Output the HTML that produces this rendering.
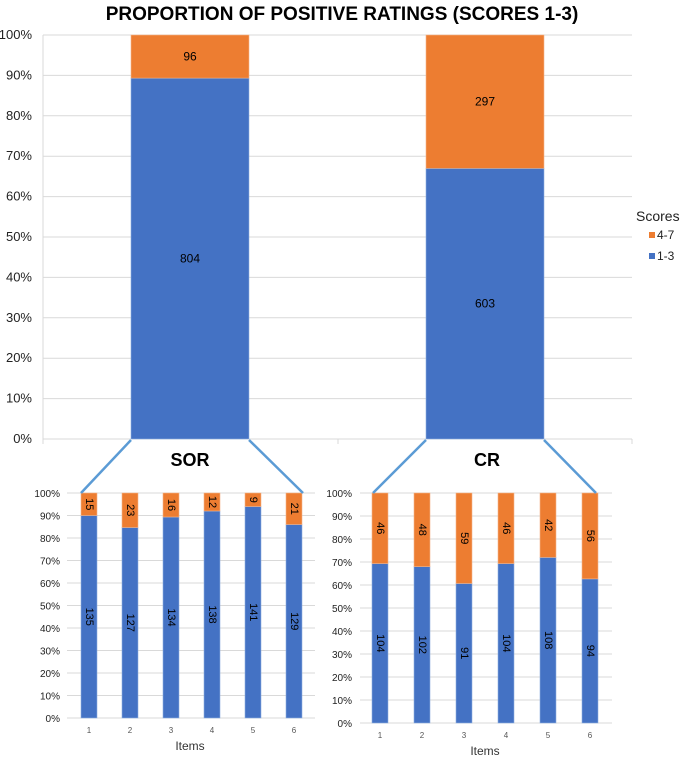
<!DOCTYPE html>
<html><head><meta charset="utf-8"><style>
body{margin:0;background:#fff;font-family:"Liberation Sans",Arial,sans-serif}
svg text{font-family:"Liberation Sans",Arial,sans-serif}
</style></head><body>
<svg id="c" width="685" height="756" viewBox="0 0 685 756" xmlns="http://www.w3.org/2000/svg"></svg>
<script>
const topCats=['SOR','CR'];
const topLow=[804,603];
const topHigh=[96,297];
const sorLow=[135,127,134,138,141,129];
const sorHigh=[15,23,16,12,9,21];
const crLow=[104,102,91,104,108,94];
const crHigh=[46,48,59,46,42,56];
const items=['1','2','3','4','5','6'];
const ticks=['0%','10%','20%','30%','40%','50%','60%','70%','80%','90%','100%'];
const BLUE='#4472C4',ORANGE='#ED7D31',GRID='#d9d9d9';
const svg=document.getElementById('c');
function el(t,a,txt){const e=document.createElementNS('http://www.w3.org/2000/svg',t);for(const k in a)e.setAttribute(k,a[k]);if(txt!==undefined)e.textContent=txt;svg.appendChild(e);return e;}
function panel(cfg){
  const y=v=>cfg.y0-(cfg.y0-cfg.y1)*v;
  ticks.forEach((t,i)=>{
    const g=el('line',{x1:cfg.gx0,x2:cfg.gx1,y1:y(i/10),y2:y(i/10),stroke:GRID,'stroke-width':1});
    
    
    const l=el('text',{x:cfg.lx,y:y(i/10)+4,'text-anchor':'end','font-size':cfg.tfs,fill:'#222'},t);
    
    
  });
  cfg.cats.forEach((c,i)=>{
    const cx=cfg.cx(i),tot=cfg.low[i]+cfg.high[i],p=cfg.low[i]/tot;
    const b=el('rect',{x:cx-cfg.bw/2,y:y(p),width:cfg.bw,height:y(0)-y(p),fill:BLUE,stroke:'#8fb0e0','stroke-width':0.6});
    
    
    const o=el('rect',{x:cx-cfg.bw/2,y:y(1),width:cfg.bw,height:y(p)-y(1),fill:ORANGE,stroke:'#f3b58a','stroke-width':0.6});
    
    
    const my1=(y(0)+y(p))/2,my2=(y(p)+y(1))/2;
    [[cfg.low[i],my1],[cfg.high[i],my2]].forEach(([v,my])=>{
      const t=cfg.rot?el('text',{x:cx,y:my,'text-anchor':'middle','dominant-baseline':'central','font-size':cfg.vfs,transform:`rotate(90 ${cx} ${my})`},v):el('text',{x:cx,y:my+4,'text-anchor':'middle','font-size':cfg.vfs},v);
      
      
    });
    if(cfg.xl){const x=el('text',{x:cx,y:cfg.xly,'text-anchor':'middle','font-size':8,fill:'#555'},c);
      
      }
  });
}
const t=el('text',{x:342,y:20,'text-anchor':'middle','font-size':19,'font-weight':'bold'},'PROPORTION OF POSITIVE RATINGS (SCORES 1-3)');


panel({cats:topCats,low:topLow,high:topHigh,y0:439,y1:35,gx0:43,gx1:632,lx:32,tfs:13,vfs:12,bw:118,cx:i=>190+i*295,rot:false});
const ax=el('line',{x1:43,x2:43,y1:35,y2:444,stroke:GRID});
[338,632].forEach(x=>{const k=el('line',{x1:x,x2:x,y1:439,y2:444,stroke:GRID});});
panel({cats:items,low:sorLow,high:sorHigh,y0:718,y1:493,gx0:67,gx1:315,lx:60,tfs:10,vfs:11,bw:16,cx:i=>89+i*41,rot:true,xl:true,xly:733});
panel({cats:items,low:crLow,high:crHigh,y0:723,y1:493,gx0:360,gx1:612,lx:352,tfs:10,vfs:11,bw:16,cx:i=>380+i*42,rot:true,xl:true,xly:738});
[[131,440,81,493],[249,440,303,493],[426,440,373,493],[544,440,596,493]].forEach(a=>{const l=el('line',{x1:a[0],y1:a[1],x2:a[2],y2:a[3],stroke:'#5B9BD5','stroke-width':2.5});});
const s1=el('text',{x:190,y:466,'text-anchor':'middle','font-size':18,'font-weight':'bold'},'SOR');
const s2=el('text',{x:487,y:466,'text-anchor':'middle','font-size':18,'font-weight':'bold'},'CR');
const i1=el('text',{x:190,y:750,'text-anchor':'middle','font-size':12,fill:'#333'},'Items');
const i2=el('text',{x:485,y:755,'text-anchor':'middle','font-size':12,fill:'#333'},'Items');
const lg=el('text',{x:636,y:221,'font-size':14,fill:'#222'},'Scores');
[['4-7',ORANGE,239],['1-3',BLUE,260]].forEach(([n,c,yy])=>{
  const r=el('rect',{x:649,y:yy-7,width:6,height:6,fill:c});
  const tx=el('text',{x:657,y:yy,'font-size':12,fill:'#222'},n);
});
</script>
</body></html>
